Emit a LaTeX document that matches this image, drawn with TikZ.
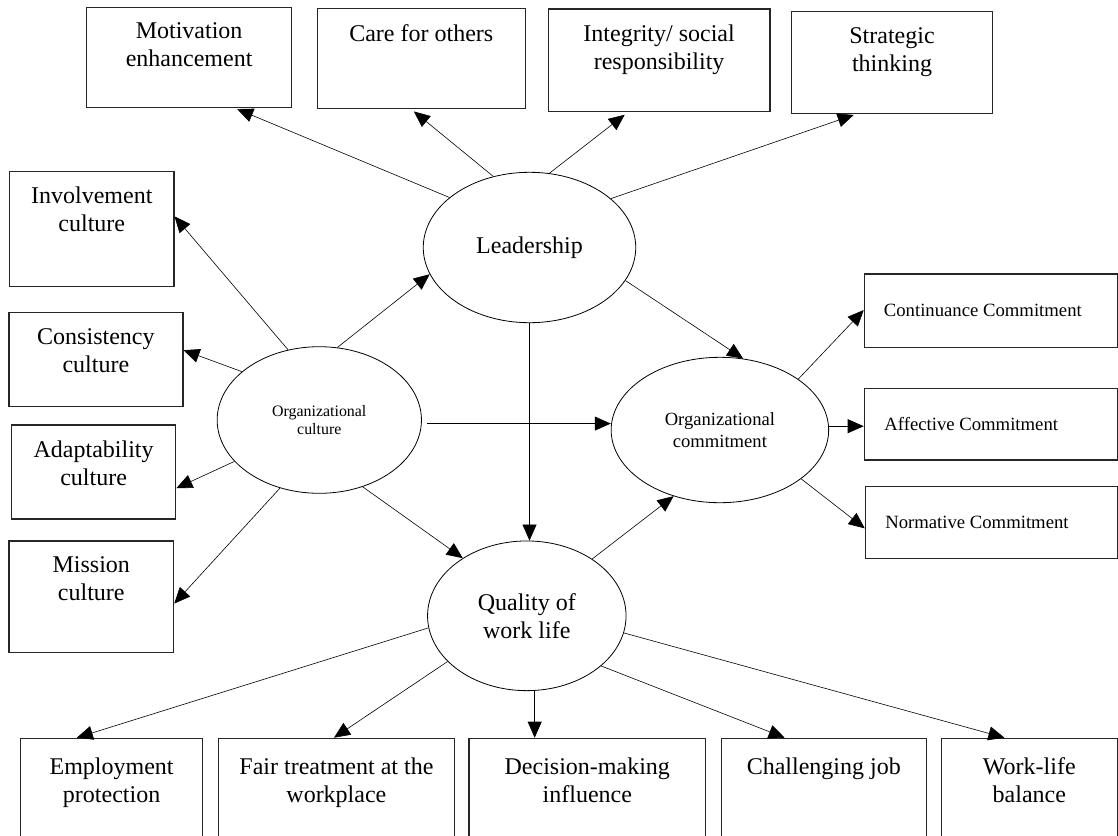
\documentclass[tikz,border=0pt]{standalone}
\usepackage{fontspec}
\setmainfont{Liberation Serif}
\usetikzlibrary{shapes.geometric,arrows.meta,calc}
\begin{document}
\begin{tikzpicture}[x=1pt,y=-1pt,
  box/.style={draw=black!85,line width=1.2pt,rectangle,inner sep=0pt},
  ell/.style={draw=black,line width=0.8pt,ellipse,inner sep=0pt,align=center},
  big/.style={font=\fontsize{24}{28}\selectfont,align=center,inner sep=0pt},
  small/.style={font=\fontsize{18.7}{22}\selectfont,inner sep=0pt},
  arr/.style={line width=0.6pt,-{Triangle[length=16pt,width=14pt]}}
]
\useasboundingbox (0,0) rectangle (1118,835);
\clip (0,0) rectangle (1118,835);

% top boxes
\node[box,minimum width=204.6pt,minimum height=100pt] (mot) at (189.1,57.3) {};
\node[big,anchor=north] (motT) at ([yshift=-16pt]mot.north) {Motivation\\enhancement};
\node[box,minimum width=208.3pt,minimum height=100pt] (care) at (421.3,58.3) {};
\node[big,anchor=north] (careT) at ([yshift=-17pt]care.north) {Care for others};
\node[box,minimum width=221.8pt,minimum height=102.7pt] (integ) at (659.1,60.3) {};
\node[big,anchor=north] (integT) at ([yshift=-16pt]integ.north) {Integrity/ social\\responsibility};
\node[box,minimum width=201.1pt,minimum height=102pt] (strat) at (892,62.7) {};
\node[big,anchor=north] (stratT) at ([yshift=-16pt]strat.north) {Strategic\\thinking};

% left boxes
\node[box,minimum width=164.3pt,minimum height=115pt] (inv) at (91.8,229.2) {};
\node[big,anchor=north] (invT) at ([yshift=-16pt]inv.north) {Involvement\\culture};
\node[box,minimum width=174pt,minimum height=94pt] (cons) at (95.9,359.7) {};
\node[big,anchor=north] (consT) at ([yshift=-16pt]cons.north) {Consistency\\culture};
\node[box,minimum width=164.3pt,minimum height=94pt] (adapt) at (93.6,472) {};
\node[big,anchor=north] (adaptT) at ([yshift=-16pt]adapt.north) {Adaptability\\culture};
\node[box,minimum width=164.7pt,minimum height=111.7pt] (miss) at (91.3,596.8) {};
\node[big,anchor=north] (missT) at ([yshift=-16pt]miss.north) {Mission\\culture};

% right boxes
\node[box,minimum width=253.2pt,minimum height=73.7pt] (cont) at (990.9,310.8) {};
\node[small,anchor=west] (contT) at ([xshift=20pt]cont.west) {Continuance Commitment};
\node[box,minimum width=253.2pt,minimum height=71.7pt] (aff) at (990.9,424.2) {};
\node[small,anchor=west] (affT) at ([xshift=20.5pt]aff.west) {Affective Commitment};
\node[box,minimum width=252.1pt,minimum height=71.7pt] (norm) at (991.4,522.5) {};
\node[small,anchor=west] (normT) at ([xshift=20.3pt]norm.west) {Normative Commitment};

% bottom boxes
\node[box,minimum width=181.8pt,minimum height=122pt] (emp) at (111.6,799.3) {};
\node[big,anchor=north] (empT) at ([yshift=-20pt]emp.north) {Employment\\protection};
\node[box,minimum width=236.4pt,minimum height=122pt] (fair) at (336.4,799.3) {};
\node[big,anchor=north] (fairT) at ([yshift=-20pt]fair.north) {Fair treatment at the\\workplace};
\node[box,minimum width=236.8pt,minimum height=122pt] (dec) at (587.3,799.3) {};
\node[big,anchor=north] (decT) at ([yshift=-20pt]dec.north) {Decision-making\\influence};
\node[box,minimum width=204.7pt,minimum height=122pt] (chal) at (823.8,799.3) {};
\node[big,anchor=north] (chalT) at ([yshift=-20pt]chal.north) {Challenging job};
\node[box,minimum width=176.4pt,minimum height=122pt] (wlb) at (1029.3,799.3) {};
\node[big,anchor=north] (wlbT) at ([yshift=-20pt]wlb.north) {Work-life\\balance};

% ellipses
\node[ell,minimum width=212.5pt,minimum height=150.4pt,font=\fontsize{24}{28}\selectfont] (lead) at (529.5,247.5) {Leadership};
\node[ell,minimum width=204.3pt,minimum height=146.6pt,font=\fontsize{15.9}{18.3}\selectfont] (cult) at (319.3,420) {Organizational\\culture};
\node[ell,minimum width=217.5pt,minimum height=145.4pt,font=\fontsize{18.6}{22.7}\selectfont] (comm) at (719.9,430) {Organizational\\commitment};
\node[ell,minimum width=198.5pt,minimum height=149.7pt,font=\fontsize{24}{28}\selectfont] (qwl) at (526.8,615.8) {Quality of\\work life};

% leadership arrows
\draw[arr,shorten >=3pt] (lead.148.8) -- ($(mot.south west)!0.72!(mot.south east)$);
\draw[arr,shorten >=4pt] (lead.117.2) -- ($(care.south west)!0.45!(care.south east)$);
\draw[arr,shorten >=4pt] (lead.75.9) -- ($(integ.south west)!0.36!(integ.south east)$);
\draw[arr,shorten >=2pt] (lead.31.2) -- ($(strat.south west)!0.32!(strat.south east)$);
\draw[arr] (lead.-19.5) -- (comm.72.8);
\draw[arr] (lead.south) -- (lead.south |- qwl.north);

% culture arrows
\draw[arr] (cult.76) -- (lead.195.6);
\draw[arr] (cult.114.4) -- ($(inv.south east)!0.61!(inv.north east)$);
\draw[arr] (cult.148.5) -- ($(cons.south east)!0.60!(cons.north east)$);
\draw[arr] (cult.206) -- ($(adapt.south east)!0.33!(adapt.north east)$);
\draw[arr] (cult.240.2) -- ($(miss.south east)!0.44!(miss.north east)$);
\draw[arr] (cult.-57) -- (qwl.138.2);
\coordinate (cs) at ([xshift=5pt]cult.-2.5);
\draw[arr] (cs) -- (cs -| comm.west);

% commitment arrows
\draw[arr] (qwl.41.4) -- (comm.235.9);
\draw[arr] (comm.33.3) -- ($(cont.south west)!0.51!(cont.north west)$);
\draw[arr] (comm.2.5) -- (comm.2.5 -| aff.west);
\draw[arr] (comm.-31.6) -- ($(norm.south west)!0.42!(norm.north west)$);

% quality of work life arrows
\draw[arr] (qwl.187.4) -- ($(emp.north west)!0.31!(emp.north east)$);
\draw[arr] (qwl.210.6) -- ($(fair.north west)!0.49!(fair.north east)$);
\draw[arr] (qwl.-84.6) -- (qwl.-84.6 |- dec.north);
\draw[arr] (qwl.-34.6) -- ($(chal.north west)!0.31!(chal.north east)$);
\draw[arr] (qwl.-10.9) -- ($(wlb.north west)!0.36!(wlb.north east)$);
\end{tikzpicture}
\end{document}
